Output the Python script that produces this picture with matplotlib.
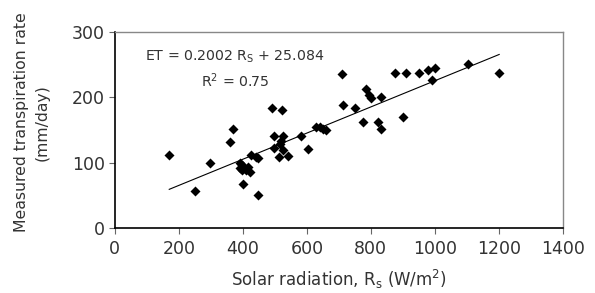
import matplotlib
matplotlib.use("Agg")
import matplotlib.pyplot as plt
import numpy as np

# Data
solar = [170, 250, 297, 359, 368, 401, 391, 401, 411, 422, 396, 417, 391, 398,
         427, 442, 448, 448, 492, 521, 498, 525, 520, 515, 498, 525, 513, 540,
         581, 604, 630, 640, 650, 659, 710, 713, 750, 776, 786, 795, 799, 823,
         833, 833, 875, 901, 911, 951, 979, 1000, 992, 1104, 1201]
transp = [112, 57, 100, 131, 151, 68, 99, 94, 89, 86, 89, 94, 92, 97,
          112, 109, 107, 51, 183, 180, 140, 140, 133, 128, 122, 120, 108, 110,
          141, 121, 155, 154, 152, 150, 236, 188, 183, 162, 212, 204, 199, 162,
          201, 151, 237, 170, 237, 237, 241, 245, 226, 251, 237]

slope = 0.2002
intercept = 25.084
r2 = 0.75

xticks = [0, 200, 400, 600, 800, 1000, 1200, 1400]
yticks = [0, 100, 200, 300]

fig = plt.figure(figsize=(5.95, 2.93), dpi=100)
ax = fig.add_axes([0.193, 0.222, 0.753, 0.669])

txt = '#333333'
ax.scatter(solar, transp, marker='D', s=26, color='black', zorder=3, linewidths=0)
xl = np.array([min(solar), max(solar)])
ax.plot(xl, slope * xl + intercept, color='black', lw=0.8, zorder=2)

ax.set_xlim(0, 1400)
ax.set_ylim(0, 300)
ax.set_xticks(xticks)
ax.set_yticks(yticks)
ax.tick_params(axis='both', direction='out', length=4, width=0.8,
               labelsize=12.5, colors='#666666', labelcolor=txt)
ax.tick_params(axis='x', pad=5)
ax.tick_params(axis='y', pad=3)
for s in ['left', 'bottom']:
    ax.spines[s].set_color('black')
    ax.spines[s].set_linewidth(1.2)
for s in ['top', 'right']:
    ax.spines[s].set_color('#888888')
    ax.spines[s].set_linewidth(1.0)

ax.set_xlabel('Solar radiation, R$_\\mathregular{s}$ (W/m$^\\mathregular{2}$)',
              fontsize=12, color=txt, labelpad=7)
ax.set_ylabel('Measured transpiration rate\n(mm/day)', fontsize=11.3, color=txt,
              linespacing=1.5)
ax.yaxis.set_label_coords(-0.145, 0.54)

ax.text(375, 262, 'ET = %.4f R$_\\mathregular{S}$ + %.3f' % (slope, intercept),
        fontsize=10.2, color=txt, ha='center', va='center')
ax.text(375, 226, 'R$^\\mathregular{2}$ = %.2f' % r2,
        fontsize=10.2, color=txt, ha='center', va='center')

fig.savefig('out.png', dpi=100)
